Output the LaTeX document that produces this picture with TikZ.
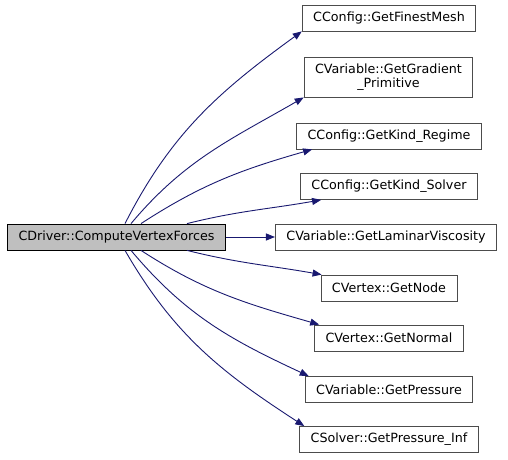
\documentclass[tikz,border=0pt]{standalone}
\usepackage{fontspec}
\setmainfont{DejaVu Sans}
\usetikzlibrary{arrows.meta}
\definecolor{edgeblue}{RGB}{25,25,112}

\begin{document}
\begin{tikzpicture}[x=1pt,y=1pt,>={Triangle[length=9pt,width=7pt]},
    fn/.style={draw=black!70,fill=white,line width=0.8pt,inner xsep=11pt,inner ysep=0pt,
      minimum height=26pt,align=center,font=\fontsize{12.7}{14}\selectfont},
    call/.style={->,draw=edgeblue,line width=0.9pt}]
      \useasboundingbox (0,0) rectangle (508,459);
      \node[fn,draw=black,fill=black!25] (main) at (116.5,222) {CDriver::ComputeVertexForces};
      \node[fn] (finest) at (389,441) {CConfig::GetFinestMesh};
      \node[fn,minimum height=40pt] (grad) at (388.5,382) {CVariable::GetGradient\\\_Primitive};
      \node[fn] (regime) at (389,323) {CConfig::GetKind\_Regime};
      \node[fn] (solver) at (389,272.5) {CConfig::GetKind\_Solver};
      \node[fn] (lamvisc) at (386,222) {CVariable::GetLaminarViscosity};
      \node[fn] (getnode) at (389,171) {CVertex::GetNode};
      \node[fn] (normal) at (389,121) {CVertex::GetNormal};
      \node[fn] (press) at (389,69.5) {CVariable::GetPressure};
      \node[fn] (pressinf) at (389,19.5) {CSolver::GetPressure\_Inf};
      % calls above
      \draw[call] ([xshift=8.5pt]main.north) to[out=63,in=216] (finest.south west);
      \draw[call] ([xshift=14.5pt]main.north) to[out=50,in=210] (grad.south west);
      \draw[call] ([xshift=24.5pt]main.north) to[out=33,in=196] ([xshift=16pt]regime.south west);
      \draw[call] ([xshift=70.5pt]main.north) to[out=14,in=190] ([xshift=21pt]solver.south west);
      \draw[call] (main.east) -- (lamvisc.west);
      % calls below
      \draw[call] ([xshift=70.5pt]main.south) to[out=-14,in=170] ([xshift=1pt]getnode.north west);
      \draw[call] ([xshift=24.5pt]main.south) to[out=-33,in=164] ([xshift=5pt]normal.north west);
      \draw[call] ([xshift=14.5pt]main.south) to[out=-50,in=155] ([xshift=4pt]press.north west);
      \draw[call] ([xshift=8.5pt]main.south) to[out=-60,in=147] ([xshift=5pt]pressinf.north west);
\end{tikzpicture}
\end{document}
